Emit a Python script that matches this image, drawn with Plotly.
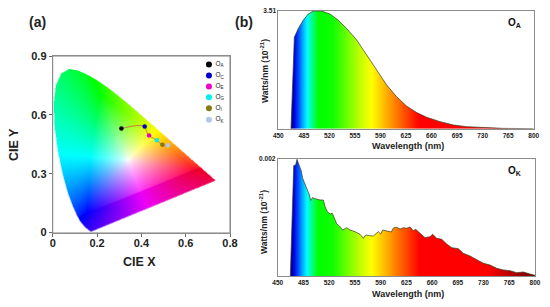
import base64, struct, zlib
import numpy as np
import plotly.graph_objects as go

W, H = 550, 307

# CIE 1931 spectral locus
locus_x = [.1741,.1733,.1714,.1689,.1644,.1566,.1440,.1241,.1096,.0913,.0687,.0454,.0235,.0082,.0039,.0139,.0389,.0743,.1142,.1547,.1929,.2296,.2658,.3016,.3373,.3731,.4087,.4441,.4788,.5125,.5448,.5752,.6029,.6270,.6658,.6915,.7079,.7260,.7347]
locus_y = [.0050,.0048,.0051,.0069,.0109,.0177,.0297,.0578,.0868,.1327,.2007,.2950,.4127,.5384,.6548,.7502,.8120,.8338,.8262,.8059,.7816,.7543,.7243,.6923,.6589,.6245,.5896,.5547,.5202,.4866,.4544,.4242,.3965,.3725,.3340,.3083,.2920,.2740,.2653]

# colour-star of the diagram: white centre and hue corners (counter-clockwise)
white_xy = (0.34, 0.37)
hue_xy = [(.65,.31),(.46,.51),(.213,.71),(.168,.385),(.155,.10),(.416,.15)]
hue_rgb = [(255,0,50),(255,255,0),(0,255,0),(0,255,255),(0,0,255),(255,0,255)]
band_line = [(.131,.088),(.665,.333)]

# CIE coordinates of the samples
series_names = ["O<sub>A</sub>", "O<sub>C</sub>", "O<sub>E</sub>", "O<sub>G</sub>", "O<sub>I</sub>", "O<sub>K</sub>"]
series_colors = ["#000000", "#0000c8", "#f000c8", "#00f0f0", "#857a10", "#b4c8e6"]
cie_x = [0.31, 0.415, 0.435, 0.47, 0.495, 0.52]
cie_y = [0.53, 0.54, 0.495, 0.47, 0.447, 0.445]
path_x = [0.31, 0.34, 0.38, 0.415, 0.422, 0.435, 0.455, 0.47, 0.495, 0.52]
path_y = [0.53, 0.538, 0.545, 0.54, 0.52, 0.495, 0.48, 0.47, 0.447, 0.445]
legend_y = [0.857, 0.80, 0.745, 0.69, 0.633, 0.575]
cie_x_ticks = [0, 0.2, 0.4, 0.6, 0.8]
cie_y_ticks = [0, 0.3, 0.6, 0.9]

# Spectrum O_A
oa_wl = [467.4,472,477.4,484.3,491,498,509.4,520.8,532,543.7,557.4,571,584.8,598.5,612.2,626,639.6,653.3,671.6,690,708,731,758,800]
oa_val = [0,2.72,2.98,3.23,3.41,3.50,3.50,3.41,3.23,2.98,2.64,2.19,1.73,1.30,0.95,0.67,0.48,0.34,0.21,0.11,0.06,0.03,0.01,0]

# Spectrum O_K
ok_wl = [467.2,471.8,474.5,476.3,479,481.7,484,487.2,490.4,493.1,494.9,497.2,500.8,504.4,507.6,512.1,514.4,517.6,521.2,524.4,527.5,530.3,533.9,538.4,543.9,548.4,555.2,562,566.5,569.7,574.7,580.1,586.9,590.1,592.8,598.3,604.6,607.3,611.9,616.4,620.9,625.5,630,634.5,637.7,643.6,650.4,657.2,660.8,666.3,673.1,679.9,686.7,695.7,702.5,711.6,720.7,729.7,738.8,747.9,756.9,766,775.1,784.2,793.2,800]
ok_val = [0,1.886,1.903,1.994,1.897,1.812,1.670,1.567,1.442,1.385,1.288,1.339,1.322,1.311,1.299,1.299,1.185,1.100,1.060,1.071,0.986,0.889,0.855,0.786,0.826,0.786,0.758,0.712,0.644,0.701,0.689,0.684,0.758,0.718,0.786,0.769,0.752,0.821,0.832,0.803,0.826,0.815,0.838,0.775,0.798,0.729,0.655,0.672,0.712,0.644,0.627,0.547,0.484,0.467,0.387,0.342,0.274,0.217,0.188,0.131,0.103,0.091,0.057,0.068,0.034,0.011]

wl_ticks = [450,485,520,555,590,625,660,695,730,765,800]
spectrum_stops = [(467,"#00007d"),(472,"#0000e0"),(478,"#0050ff"),(484,"#00b0ff"),(490,"#00ffff"),(497,"#00ff80"),(505,"#00ff00"),(525,"#10ff00"),(545,"#70ff00"),(562,"#c0ff00"),(578,"#ffff00"),(592,"#ffc800"),(607,"#ff8c00"),(625,"#ff4800"),(643,"#ff0000"),(735,"#ff0000"),(800,"#700000")]


def chromaticity_png(n):
    xs = (np.arange(n) + 0.5) / n * 0.8
    ys = (np.arange(n)[::-1] + 0.5) / n * 0.9
    X, Y = np.meshgrid(xs, ys)
    dx, dy = X - white_xy[0], Y - white_xy[1]
    rgb = np.full(X.shape + (3,), 255.0)
    hv = np.array(hue_xy) - np.array(white_xy)
    hc = np.array(hue_rgb, float)
    assigned = np.zeros(X.shape, bool)
    for i in range(len(hv)):
        j = (i + 1) % len(hv)
        det = hv[i, 0] * hv[j, 1] - hv[i, 1] * hv[j, 0]
        a = (dx * hv[j, 1] - dy * hv[j, 0]) / det
        b = (hv[i, 0] * dy - hv[i, 1] * dx) / det
        m = (a >= 0) & (b >= 0) & ~assigned
        s = a + b
        t = np.where(s > 0, b / np.maximum(s, 1e-9), 0)
        sat = np.clip(s, 0, 1) ** 0.8
        hue = hc[i][None, None, :] * (1 - t[..., None]) + hc[j][None, None, :] * t[..., None]
        col = 255 + (hue - 255) * sat[..., None]
        rgb[m] = col[m]
        assigned |= m
    (x1, y1), (x2, y2) = band_line
    below = Y < y1 + (X - x1) * (y2 - y1) / (x2 - x1)
    rgb[below, 1] = 0
    rgb[below, 0] *= 0.93
    rgb[below, 2] *= 0.97
    px, py = np.array(locus_x + [locus_x[0]]), np.array(locus_y + [locus_y[0]])
    inside = np.zeros(X.shape, bool)
    for i in range(len(px) - 1):
        c = (py[i] > Y) != (py[i + 1] > Y)
        with np.errstate(divide="ignore", invalid="ignore"):
            xi = px[i] + (Y - py[i]) * (px[i + 1] - px[i]) / (py[i + 1] - py[i])
        inside ^= c & (X < xi)
    rgba = np.dstack([rgb.astype(np.uint8), (inside * 255).astype(np.uint8)])
    raw = b"".join(b"\x00" + rgba[r].tobytes() for r in range(n))

    def chunk(tag, data):
        return struct.pack(">I", len(data)) + tag + data + struct.pack(">I", zlib.crc32(tag + data) & 0xffffffff)

    png = b"\x89PNG\r\n\x1a\n" + chunk(b"IHDR", struct.pack(">IIBBBBB", n, n, 8, 6, 0, 0, 0)) + chunk(b"IDAT", zlib.compress(raw)) + chunk(b"IEND", b"")
    return "data:image/png;base64," + base64.b64encode(png).decode()


def dom(a, b, size):
    return [a / size, b / size]


def label(text, px, py, size, angle=0, color="#222"):
    return dict(text=text, x=px / W, y=1 - py / H, xref="paper", yref="paper", showarrow=False, textangle=angle,
                xanchor="center", yanchor="middle", font=dict(family="Liberation Sans", size=size, color=color))


A_L, A_R, A_T, A_B = 52.7, 230, 56, 232.5
x_max, y_max = cie_x_ticks[-1], cie_y_ticks[-1]
tick_dx = 3 / (A_R - A_L) * x_max
tick_dy = 3 / (A_B - A_T) * y_max

fig = go.Figure()

# frame and tick marks of panel (a), drawn as one line trace on its axes
frame_x = [0, x_max, x_max, 0, 0]
frame_y = [0, 0, y_max, y_max, 0]
for v in cie_x_ticks:
    frame_x += [None, v, v]
    frame_y += [None, 0, -tick_dy]
for v in cie_y_ticks:
    frame_x += [None, 0, -tick_dx]
    frame_y += [None, v, v]
fig.add_trace(go.Scatter(x=frame_x, y=frame_y, mode="lines", line=dict(color="#808080", width=1), cliponaxis=False,
                         hoverinfo="skip", showlegend=False, xaxis="x", yaxis="y"))

fig.add_trace(go.Scatter(x=path_x, y=path_y, mode="lines", line=dict(color="#c8603c", width=0.8, shape="spline"), showlegend=False, xaxis="x", yaxis="y"))
for nm, col, cx, cy in zip(series_names, series_colors, cie_x, cie_y):
    fig.add_trace(go.Scatter(x=[cx], y=[cy], mode="markers", marker=dict(color=col, size=4.5), name=nm, showlegend=False, xaxis="x", yaxis="y"))
for nm, col, ly in zip(series_names, series_colors, legend_y):
    fig.add_trace(go.Scatter(x=[0.705], y=[ly], mode="markers+text", text=[" " + nm], textposition="middle right",
                             textfont=dict(family="Liberation Sans", size=6.5, color="#222"),
                             marker=dict(color=col, size=6), showlegend=False, xaxis="x", yaxis="y"))

lo, hi = spectrum_stops[0][0], spectrum_stops[-1][0]
scale = [[(w - lo) / (hi - lo), c] for w, c in spectrum_stops]
for wl, val, xa, ya in [(oa_wl, oa_val, "x2", "y2"), (ok_wl, ok_val, "x3", "y3")]:
    fig.add_trace(go.Scatter(x=wl, y=val, mode="lines", fill="tozeroy",
                             fillgradient=dict(type="horizontal", colorscale=scale, start=lo, stop=hi),
                             line=dict(color="#3a3a20", width=0.7), showlegend=False, xaxis=xa, yaxis=ya))

spine = dict(showline=True, linecolor="#8c8c8c", linewidth=1, mirror=True, showgrid=False, zeroline=False, automargin=False)
tick_a = dict(ticks="outside", ticklen=3, tickcolor="#666", tickfont=dict(family="Liberation Sans", size=11, color="#222", weight="bold"))
tick_b = dict(ticks="", tickfont=dict(family="Liberation Sans", size=6.5, color="#222", weight="bold"))

fig.update_layout(
    width=W, height=H, margin=dict(l=0, r=0, t=0, b=0), paper_bgcolor="white", plot_bgcolor="rgba(0,0,0,0)",
    images=[dict(source=chromaticity_png(354), xref="paper", yref="paper", x=A_L / W, y=1 - A_T / H, sizex=(A_R - A_L) / W, sizey=(A_B - A_T) / H,
                 xanchor="left", yanchor="top", sizing="stretch", layer="below")],
    xaxis=dict(domain=dom(A_L, A_R, W), range=[0, x_max], tickvals=cie_x_ticks, ticktext=["0", "0.2", "0.4", "0.6", "0.8"], anchor="y", ticklabelstandoff=-3, **spine, **tick_a),
    yaxis=dict(domain=[1 - A_B / H, 1 - A_T / H], range=[0, y_max], tickvals=cie_y_ticks, ticktext=["0", "0.3", "0.6", "0.9"], anchor="x", **spine, **tick_a),
    xaxis2=dict(domain=dom(278.3, 533.7, W), range=[450, 800], tickvals=wl_ticks, anchor="y2", **spine, **tick_b),
    yaxis2=dict(domain=[1 - 128.7 / H, 1 - 10.7 / H], range=[0, 3.51], tickvals=[3.51], ticktext=["3.51"], anchor="x2", **spine, **tick_b),
    xaxis3=dict(domain=dom(277.7, 535, W), range=[450, 800], tickvals=wl_ticks, anchor="y3", **spine, **tick_b),
    yaxis3=dict(domain=[1 - 276 / H, 1 - 159 / H], range=[0, 2.0], tickvals=[2.0], ticktext=["0.002"], anchor="x3", **spine, **tick_b),
    annotations=[
        label("<b>(a)</b>", 37, 22, 14),
        label("<b>(b)</b>", 244, 22, 14),
        label("<b>O<sub>A</sub></b>", 514, 23, 10, color="#111"),
        label("<b>O<sub>K</sub></b>", 514, 171, 10, color="#111"),
        label("<b>CIE X</b>", 139, 262, 12.5),
        label("<b>CIE Y</b>", 14, 145, 12.5, angle=-90),
        label("<b>Wavelength (nm)</b>", 408, 145.5, 9),
        label("<b>Wavelength (nm)</b>", 408, 294, 9),
        label("<b>Watts/nm (10<sup>-21</sup>)</b>", 264, 71, 8.5, angle=-90),
        label("<b>Watts/nm (10<sup>-21</sup>)</b>", 263, 222, 8.5, angle=-90),
    ],
)
fig.write_html("out.html", config={"displayModeBar": False}, post_script="document.body.style.margin='0';document.documentElement.style.overflow='hidden';")
